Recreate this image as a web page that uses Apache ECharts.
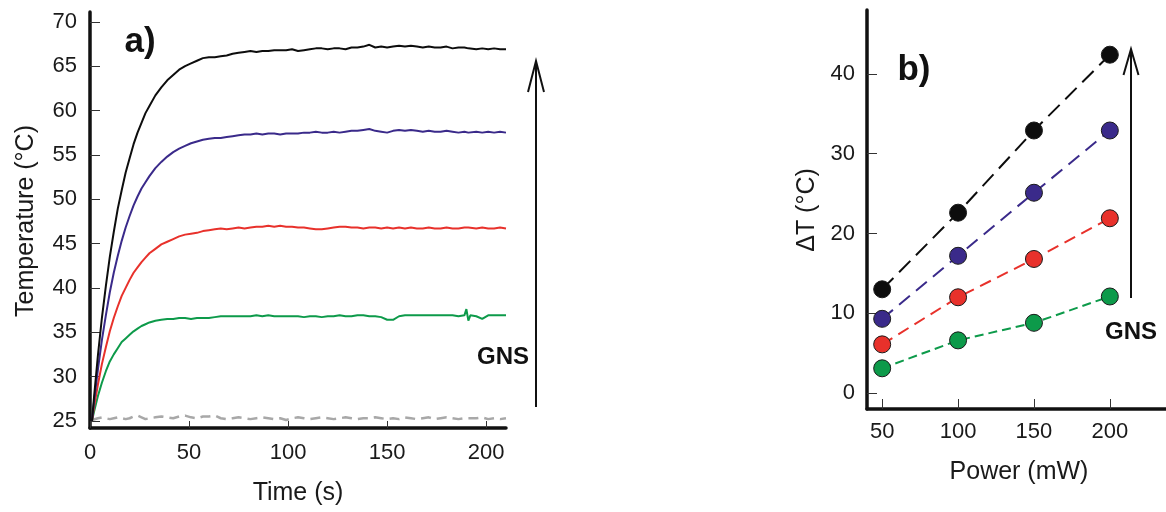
<!DOCTYPE html>
<html>
<head>
<meta charset="utf-8">
<script src="https://cdn.jsdelivr.net/npm/echarts@6/dist/echarts.min.js"></script>
<style>
html,body{margin:0;padding:0;background:#fff;}
#chart{width:1166px;height:512px;}
</style>
</head>
<body>
<div id="chart"></div>
<script>
// ---------- Panel a) data: temperature vs time ----------
const timeS = [1,2,4,6,8,10,12,14,16,18,20,22,24,26,28,30,
  33,36,39,42,45,48,51,54,57,60,
  63,66,69,72,75,78,81,84,87,90,
  93,96,99,102,105,108,111,114,117,120,
  123,126,129,132,135,138,141,144,147,150,
  153,156,159,162,165,168,171,174,177,180,
  183,186,
  189,190,191,192,195,198,201,204,207,210];

const tempBlack = [25.0,27.6,32.4,36.6,40.2,43.5,46.3,48.9,51.0,53.0,54.6,56.2,57.5,58.6,59.7,60.5,
  61.7,62.6,63.4,64.0,64.6,65.0,65.3,65.6,65.9,66.0,
  66.0,66.1,66.2,66.4,66.5,66.6,66.7,66.6,66.7,66.7,
  66.8,66.8,66.8,66.9,66.7,66.8,66.9,67.0,67.0,66.9,
  67.0,67.0,66.9,67.1,67.1,67.2,67.4,67.1,67.2,67.1,
  67.2,67.3,67.2,67.3,67.2,67.1,67.2,67.1,67.1,67.2,
  67.0,67.1,
  67.1,67.1,67.0,67.0,66.9,67.0,66.9,67.0,66.9,66.9];

const tempPurple = [25.0,27.1,30.8,34.1,36.9,39.5,41.7,43.6,45.3,46.8,48.1,49.3,50.3,51.2,51.9,52.6,
  53.5,54.2,54.8,55.3,55.7,56.0,56.3,56.5,56.7,56.8,
  56.9,56.9,57.0,57.1,57.2,57.3,57.3,57.4,57.3,57.4,
  57.4,57.3,57.4,57.4,57.4,57.5,57.5,57.6,57.5,57.5,
  57.6,57.5,57.6,57.7,57.7,57.8,57.9,57.7,57.6,57.5,
  57.7,57.8,57.7,57.8,57.7,57.6,57.7,57.6,57.6,57.7,
  57.6,57.5,
  57.6,57.6,57.5,57.5,57.6,57.5,57.6,57.5,57.6,57.5];

const tempRed = [25.0,26.5,29.1,31.4,33.3,35.1,36.6,37.9,39.1,40.0,40.9,41.7,42.3,42.9,43.4,43.9,
  44.4,44.9,45.2,45.5,45.8,46.0,46.1,46.2,46.4,46.5,
  46.6,46.7,46.6,46.7,46.8,46.7,46.8,46.9,46.9,47.0,
  46.9,47.0,46.9,46.9,46.8,46.8,46.7,46.6,46.6,46.7,
  46.8,46.9,46.9,46.8,46.8,46.7,46.8,46.8,46.7,46.8,
  46.7,46.8,46.7,46.8,46.7,46.7,46.8,46.7,46.7,46.8,
  46.7,46.7,
  46.8,46.7,46.8,46.7,46.7,46.8,46.7,46.7,46.8,46.7];

const tempGreen = [25.0,26.0,27.8,29.3,30.6,31.7,32.5,33.2,33.9,34.3,34.7,35.1,35.4,35.7,35.9,36.1,
  36.3,36.4,36.5,36.5,36.6,36.6,36.5,36.6,36.6,36.6,
  36.7,36.8,36.8,36.8,36.8,36.8,36.8,36.9,36.8,36.9,
  36.8,36.8,36.8,36.8,36.8,36.7,36.8,36.8,36.7,36.8,
  36.8,36.9,36.8,36.8,36.9,36.9,36.8,36.8,36.7,36.4,
  36.4,36.8,36.9,36.9,36.9,36.9,36.9,36.9,36.9,36.9,
  36.9,36.8,
  36.9,37.6,36.3,36.9,36.8,36.5,36.9,36.9,36.9,36.9];

const tempGray = [25.1,25.2,25.3,25.4,25.3,25.2,25.3,25.4,25.3,25.2,25.3,25.5,25.6,25.4,25.2,25.3,
  25.4,25.5,25.4,25.3,25.5,25.6,25.4,25.3,25.5,25.5,
  25.6,25.3,25.2,25.3,25.4,25.3,25.2,25.3,25.4,25.3,
  25.2,25.3,25.1,25.3,25.4,25.3,25.2,25.3,25.4,25.3,
  25.2,25.3,25.4,25.3,25.2,25.3,25.3,25.4,25.3,25.2,
  25.3,25.2,25.4,25.3,25.2,25.3,25.4,25.2,25.3,25.4,
  25.3,25.2,
  25.3,25.4,25.3,25.2,25.3,25.4,25.2,25.3,25.2,25.3];

const tempTicks = [25,30,35,40,45,50,55,60,65,70];
const timeTicks = [0,50,100,150,200];

// ---------- Panel b) data: ΔT vs power ----------
const powerMW = [50,100,150,200];
const dtBlack  = [13.0,22.6,32.9,42.4];
const dtPurple = [9.3,17.2,25.1,32.9];
const dtRed    = [6.1,12.0,16.8,21.9];
const dtGreen  = [3.1,6.6,8.8,12.1];
const dtTicks = [0,10,20,30,40];
const powerTicks = [50,100,150,200];

// ---------- styling ----------
const FONT = 'Liberation Sans, Arial, sans-serif';
const C = {black:'#0d0d0d', purple:'#3a2a8a', red:'#e8312b', green:'#0d9a4a', gray:'#a8a8a8'};

function pairs(xs, ys){ return xs.map((x,i)=>[x, ys[i]]); }

function axisCommon(){
  return {
    axisLine:{show:true, onZero:false, lineStyle:{color:'#111', width:3.5}},
    splitLine:{show:false},
  };
}

const chart = echarts.init(document.getElementById('chart'), null, {renderer:'canvas'});

const tempSeries = (data, color) => ({
  type:'line', xAxisIndex:0, yAxisIndex:0, data, showSymbol:false, symbol:'none',
  lineStyle:{color, width:2}, itemStyle:{color}, animation:false
});
const dtSeries = (data, color, dash) => ({
  type:'line', xAxisIndex:1, yAxisIndex:1, data, symbol:'circle', symbolSize:17, showSymbol:true,
  lineStyle:{color, width:2, type:dash}, itemStyle:{color, borderColor:'#1a1a1a', borderWidth:1}, animation:false
});

const option = {
  animation:false,
  backgroundColor:'#ffffff',
  textStyle:{fontFamily:FONT},
  grid:[
    {left:90, top:12, width:416, height:416},
    {left:867, top:10, right:0, height:399}
  ],
  xAxis:[
    Object.assign(axisCommon(), {
      gridIndex:0, type:'value', min:0, max:210,
      axisTick:{show:true, inside:true, length:7, customValues:timeTicks, lineStyle:{color:'#333', width:1}},
      axisLabel:{show:true, customValues:timeTicks, fontSize:22, color:'#1a1a1a', margin:14, fontFamily:FONT}
    }),
    Object.assign(axisCommon(), {
      gridIndex:1, type:'value', min:40, max:237,
      axisTick:{show:true, inside:true, length:10, customValues:powerTicks, lineStyle:{color:'#333', width:1}},
      axisLabel:{show:true, customValues:powerTicks, fontSize:22, color:'#1a1a1a', margin:12, fontFamily:FONT}
    })
  ],
  yAxis:[
    Object.assign(axisCommon(), {
      gridIndex:0, type:'value', min:24.2, max:71.1,
      axisTick:{show:true, inside:true, length:10, customValues:tempTicks, lineStyle:{color:'#333', width:1}},
      axisLabel:{show:true, customValues:tempTicks, fontSize:22, color:'#1a1a1a', margin:13, fontFamily:FONT}
    }),
    Object.assign(axisCommon(), {
      gridIndex:1, type:'value', min:-2, max:48,
      axisTick:{show:true, inside:true, length:10, customValues:dtTicks, lineStyle:{color:'#333', width:1}},
      axisLabel:{show:true, customValues:dtTicks, fontSize:22, color:'#1a1a1a', margin:12, fontFamily:FONT}
    })
  ],
  series:[
    Object.assign(tempSeries(pairs(timeS, tempGray), C.gray), {lineStyle:{color:C.gray, width:2.5, type:[10,6]}}),
    tempSeries(pairs(timeS, tempGreen), C.green),
    tempSeries(pairs(timeS, tempRed), C.red),
    tempSeries(pairs(timeS, tempPurple), C.purple),
    tempSeries(pairs(timeS, tempBlack), C.black),
    dtSeries(pairs(powerMW, dtGreen), C.green, [9,5]),
    dtSeries(pairs(powerMW, dtRed), C.red, [12,7]),
    dtSeries(pairs(powerMW, dtPurple), C.purple, [14,8]),
    dtSeries(pairs(powerMW, dtBlack), C.black, [16,8])
  ],
  graphic:[
    // axis titles
    {type:'text', x:26, y:221, rotation:Math.PI/2, style:{text:'Temperature (°C)', font:'25px '+FONT, fill:'#1a1a1a', align:'center', verticalAlign:'middle'}},
    {type:'text', x:298, y:493, style:{text:'Time (s)', font:'25px '+FONT, fill:'#1a1a1a', align:'center', verticalAlign:'middle'}},
    {type:'text', x:807, y:210, rotation:Math.PI/2, style:{text:'ΔT (°C)', font:'25px '+FONT, fill:'#1a1a1a', align:'center', verticalAlign:'middle'}},
    {type:'text', x:1019, y:472, style:{text:'Power (mW)', font:'25px '+FONT, fill:'#1a1a1a', align:'center', verticalAlign:'middle'}},
    // panel labels
    {type:'text', x:140, y:42, style:{text:'a)', font:'bold 35px '+FONT, fill:'#111', align:'center', verticalAlign:'middle'}},
    {type:'text', x:914, y:70, style:{text:'b)', font:'bold 35px '+FONT, fill:'#111', align:'center', verticalAlign:'middle'}},
    {type:'text', x:503, y:357, style:{text:'GNS', font:'bold 24px '+FONT, fill:'#111', align:'center', verticalAlign:'middle'}},
    {type:'text', x:1131, y:332, style:{text:'GNS', font:'bold 24px '+FONT, fill:'#111', align:'center', verticalAlign:'middle'}},
    // arrows
    {type:'line', shape:{x1:536, y1:407, x2:536, y2:61}, style:{stroke:'#111', lineWidth:2}},
    {type:'polyline', shape:{points:[[528,92],[536,61],[544,92]]}, style:{stroke:'#111', lineWidth:2, fill:null}},
    {type:'line', shape:{x1:1131, y1:298, x2:1131, y2:49}, style:{stroke:'#111', lineWidth:2}},
    {type:'polyline', shape:{points:[[1123.5,75],[1131,49],[1138.5,75]]}, style:{stroke:'#111', lineWidth:2, fill:null}}
  ]
};
chart.setOption(option);
</script>
</body>
</html>
